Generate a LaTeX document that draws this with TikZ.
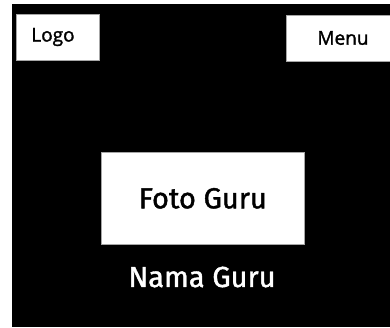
\documentclass[tikz,border=0pt]{standalone}
\usepackage{fontspec}
\setmainfont{Open Sans}[FakeBold=1.6]
\newfontfamily\titlefont{Fira Sans}[FakeBold=1.4]
\begin{document}
\begin{tikzpicture}[x=1pt,y=-1pt,
  panel/.style={fill=white,draw=gray!70,line width=0.6pt,inner sep=0pt,anchor=north west},
  smalllabel/.style={font=\fontsize{19}{22}\selectfont,text=black},
  biglabel/.style={font=\titlefont\fontsize{29}{32}\selectfont}]
  % page and dark screen area
  \useasboundingbox (0,0) rectangle (390,327);
  \fill[white] (0,0) rectangle (390,327);
  \fill[black] (12,4) rectangle (390,327);
  % header boxes
  \node[panel,minimum width=83pt,minimum height=46pt] (logo) at (16,14) {};
  \node[smalllabel] (logotext) at (53,37) {Logo};
  \node[panel,minimum width=106pt,minimum height=46pt] (menu) at (286,15) {};
  \node[smalllabel] (menutext) at (343,38) {Menu};
  % photo placeholder and name
  \node[panel,minimum width=203pt,minimum height=92pt] (foto) at (101,152) {};
  \node[biglabel,text=black] (fototext) at (foto.center) {Foto Guru};
  \node[biglabel,text=white] (nama) at (202,277) {Nama Guru};
\end{tikzpicture}
\end{document}
